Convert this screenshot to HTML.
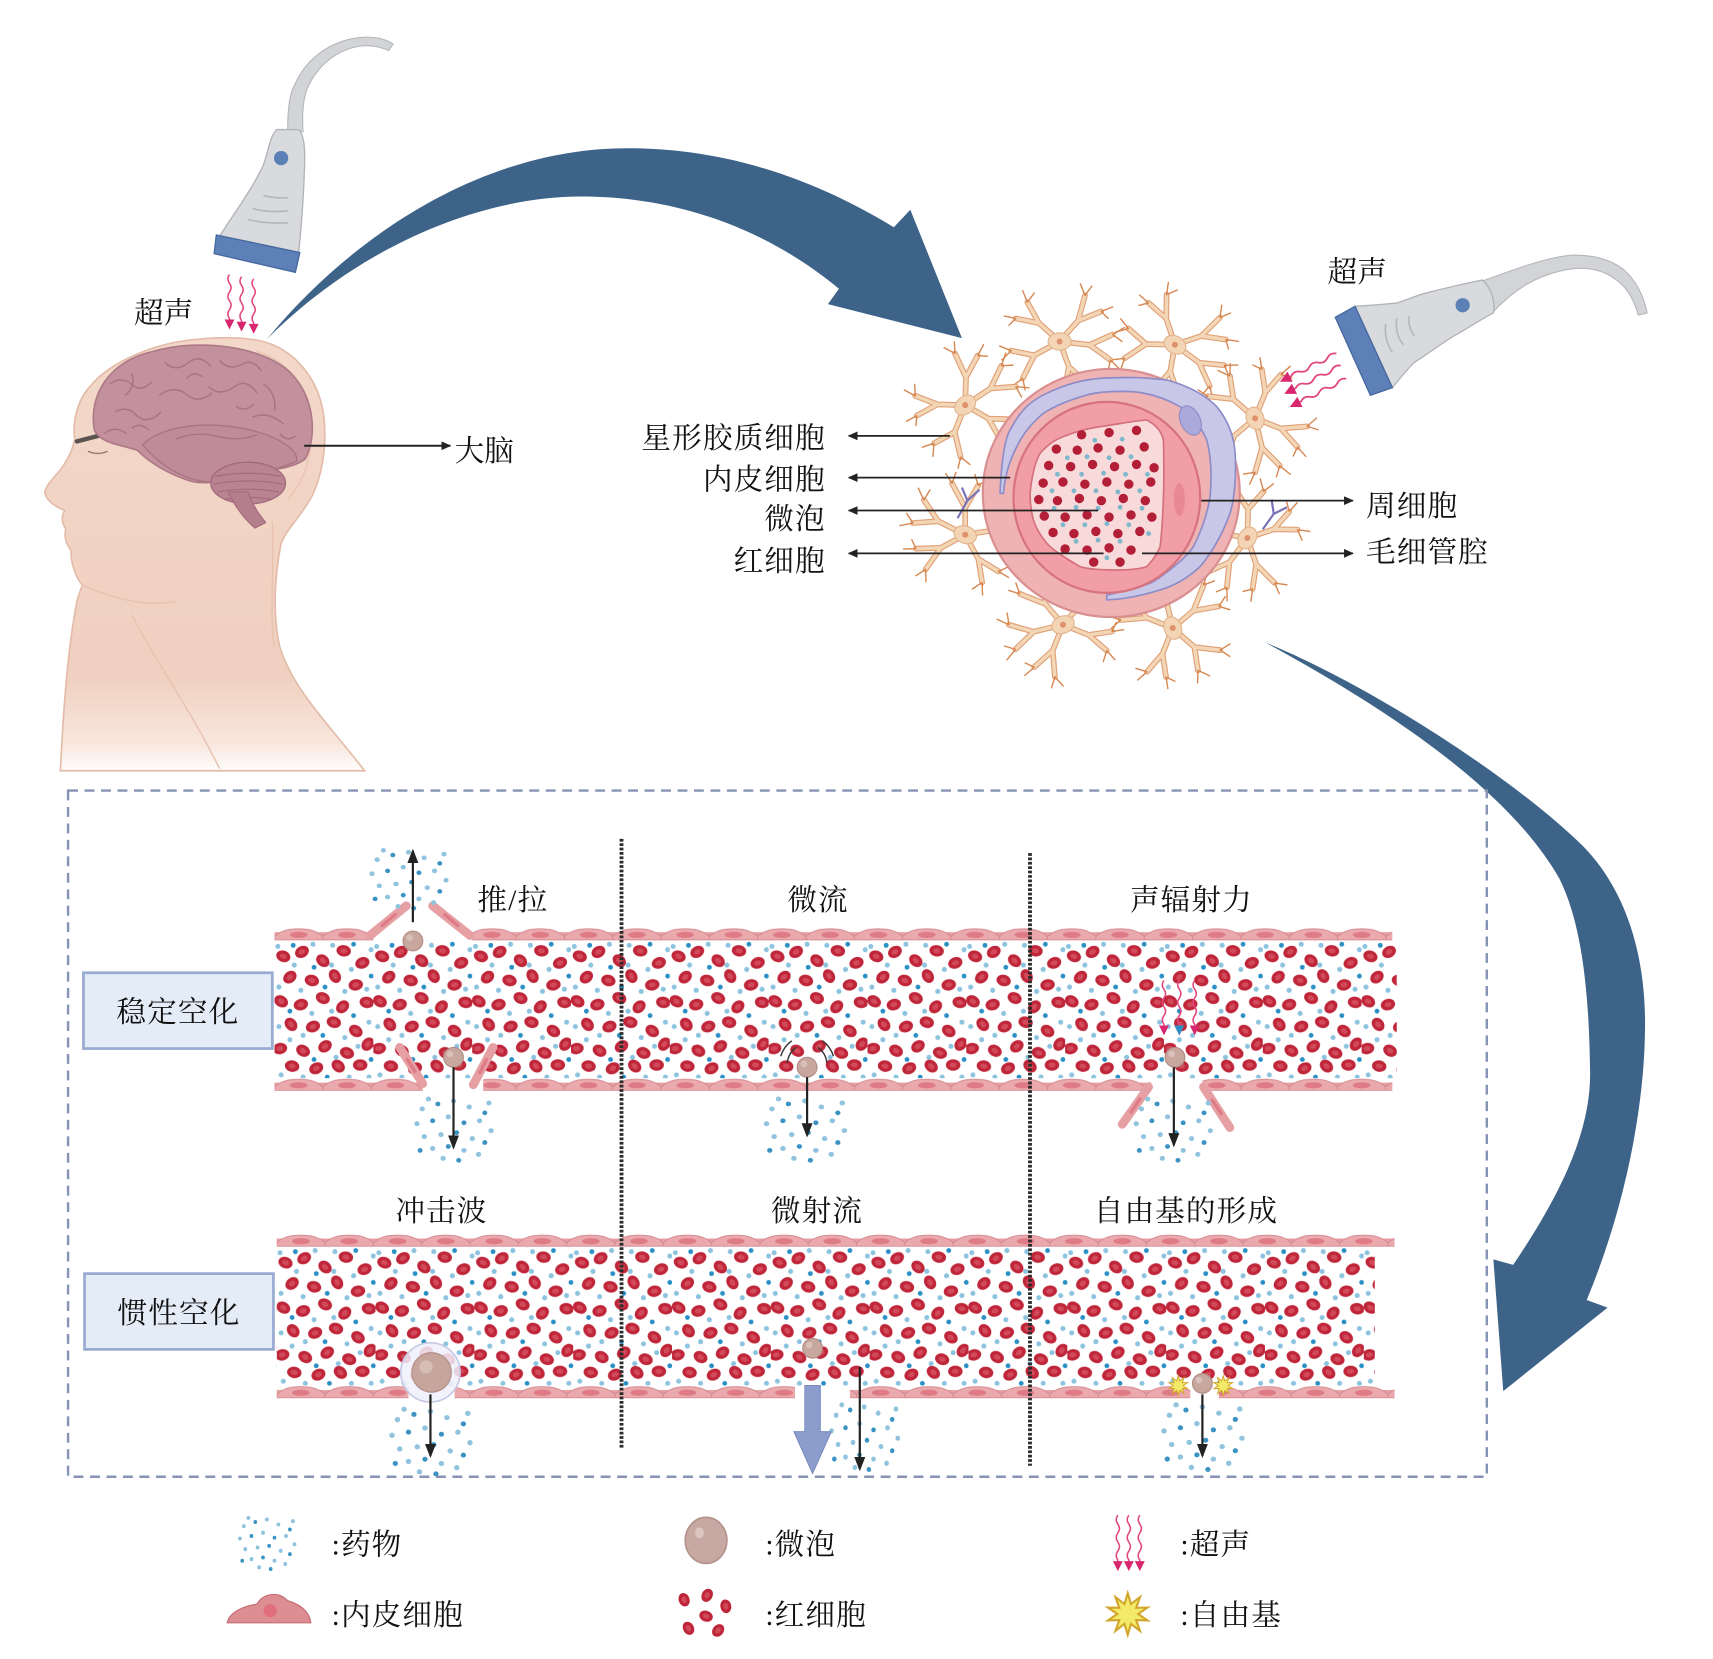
<!DOCTYPE html>
<html><head><meta charset="utf-8"><style>
html,body{margin:0;padding:0;background:#fff;}
svg{display:block;}
text{font-family:"Liberation Serif","Noto Serif CJK SC",serif;fill:#111;}
</style></head><body>
<svg width="1713" height="1659" viewBox="0 0 1560 1511" preserveAspectRatio="none" xmlns="http://www.w3.org/2000/svg" xmlns:xlink="http://www.w3.org/1999/xlink">
<defs>
<linearGradient id="skin" gradientUnits="userSpaceOnUse" x1="0" y1="300" x2="0" y2="705">
<stop offset="0" stop-color="#f3d8ca"/><stop offset="0.78" stop-color="#f0d0c0"/><stop offset="0.93" stop-color="#f8e6dd"/><stop offset="1" stop-color="#ffffff"/>
</linearGradient>
<g id="rbc"><ellipse rx="6.6" ry="5.2" fill="#c0263a"/><ellipse rx="3.2" ry="2.3" fill="#d24a5a"/></g>
<pattern id="blood" width="90" height="126" patternUnits="userSpaceOnUse">
<g fill="#8cc3df">
<circle cx="3" cy="5" r="2.3"/><circle cx="35" cy="3" r="2.3"/><circle cx="53" cy="4" r="2.3"/><circle cx="88" cy="8" r="2.3"/>
<circle cx="18" cy="22" r="2.3"/><circle cx="52" cy="22" r="2.3"/><circle cx="70" cy="26" r="2.3"/>
<circle cx="4" cy="42" r="2.3"/><circle cx="24" cy="45" r="2.3"/><circle cx="64" cy="46" r="2.3"/><circle cx="84" cy="44" r="2.3"/>
<circle cx="34" cy="66" r="2.3"/><circle cx="52" cy="64" r="2.3"/><circle cx="4" cy="78" r="2.3"/><circle cx="26" cy="86" r="2.3"/>
<circle cx="64" cy="88" r="2.3"/><circle cx="86" cy="74" r="2.3"/><circle cx="14" cy="90" r="2.3"/><circle cx="56" cy="106" r="2.3"/>
<circle cx="76" cy="96" r="2.3"/><circle cx="6" cy="122" r="2.3"/><circle cx="26" cy="124" r="2.3"/><circle cx="68" cy="124" r="2.3"/><circle cx="86" cy="124" r="2.3"/>
</g>
<g fill="#2a8fc4">
<circle cx="17" cy="4" r="2.2"/><circle cx="72" cy="3" r="2.2"/><circle cx="36" cy="24" r="2.2"/><circle cx="88" cy="32" r="2.2"/>
<circle cx="46" cy="42" r="2.2"/><circle cx="14" cy="64" r="2.2"/><circle cx="72" cy="68" r="2.2"/><circle cx="44" cy="86" r="2.2"/>
<circle cx="36" cy="108" r="2.2"/><circle cx="88" cy="108" r="2.2"/><circle cx="48" cy="124" r="2.2"/>
</g>
<use href="#rbc" transform="translate(8 14) rotate(20)"/><use href="#rbc" transform="translate(25 10) rotate(-30)"/>
<use href="#rbc" transform="translate(44 18) rotate(40)"/><use href="#rbc" transform="translate(63 9) rotate(10)"/>
<use href="#rbc" transform="translate(80 20) rotate(-20)"/><use href="#rbc" transform="translate(14 33) rotate(-40)"/>
<use href="#rbc" transform="translate(34 36) rotate(15)"/><use href="#rbc" transform="translate(55 32) rotate(60)"/>
<use href="#rbc" transform="translate(74 40) rotate(-10)"/><use href="#rbc" transform="translate(6 55) rotate(30)"/>
<use href="#rbc" transform="translate(24 58) rotate(-15)"/><use href="#rbc" transform="translate(44 52) rotate(25)"/>
<use href="#rbc" transform="translate(62 60) rotate(-45)"/><use href="#rbc" transform="translate(84 56) rotate(10)"/>
<use href="#rbc" transform="translate(15 76) rotate(50)"/><use href="#rbc" transform="translate(35 78) rotate(-20)"/>
<use href="#rbc" transform="translate(54 74) rotate(15)"/><use href="#rbc" transform="translate(74 82) rotate(35)"/>
<use href="#rbc" transform="translate(5 98) rotate(-10)"/><use href="#rbc" transform="translate(26 100) rotate(30)"/>
<use href="#rbc" transform="translate(46 96) rotate(-35)"/><use href="#rbc" transform="translate(66 102) rotate(20)"/>
<use href="#rbc" transform="translate(85 94) rotate(-50)"/><use href="#rbc" transform="translate(16 114) rotate(10)"/>
<use href="#rbc" transform="translate(38 116) rotate(-25)"/><use href="#rbc" transform="translate(58 114) rotate(40)"/>
<use href="#rbc" transform="translate(78 113) rotate(0)"/>
</pattern>
<pattern id="memb" width="44" height="13" patternUnits="userSpaceOnUse">
<rect y="4" width="44" height="7" fill="#e6a0a4"/>
<path d="M0,8 C6,2 14,1 22,1 C30,1 38,2 44,8 L44,11 L0,11Z" fill="#eaa9ac" stroke="#d4858d" stroke-width="0.8"/>
<ellipse cx="22" cy="6.5" rx="8" ry="2.8" fill="#df7b86"/>
</pattern>
<g id="cloud">
<g fill="#8fc3de">
<circle cx="-30" cy="-20" r="2.5"/><circle cx="0" cy="-28" r="2.5"/><circle cx="15" cy="-22" r="2.5"/><circle cx="-35" cy="-5" r="2.5"/>
<circle cx="-5" cy="-12" r="2.5"/><circle cx="25" cy="-8" r="2.5"/><circle cx="36" cy="2" r="2.5"/><circle cx="-28" cy="8" r="2.5"/>
<circle cx="-12" cy="6" r="2.5"/><circle cx="18" cy="10" r="2.5"/><circle cx="-20" cy="20" r="2.5"/><circle cx="10" cy="22" r="2.5"/>
<circle cx="24" cy="26" r="2.5"/><circle cx="-10" cy="30" r="2.5"/><circle cx="34" cy="-26" r="2.5"/><circle cx="-24" cy="-30" r="2.5"/>
</g>
<g fill="#3b93c4">
<circle cx="-15" cy="-25" r="2.4"/><circle cx="30" cy="-16" r="2.4"/><circle cx="-20" cy="-8" r="2.4"/><circle cx="10" cy="-6" r="2.4"/>
<circle cx="3" cy="4" r="2.4"/><circle cx="30" cy="14" r="2.4"/><circle cx="-5" cy="18" r="2.4"/><circle cx="5" cy="32" r="2.4"/><circle cx="-32" cy="22" r="2.4"/>
</g>
</g>
<g id="wv"><path d="M0,0 q-3,4 0,8 q3,4 0,8 q-3,4 0,8 q3,4 0,8 q-3,4 0,8 l0,3" fill="none" stroke="#e2457f" stroke-width="1.4"/><polygon points="-4.5,41 4.5,41 0,50" fill="#d9276f"/></g>
<g id="star"><polygon points="0,-10 1.55,-4.76 5.88,-8.09 4.05,-2.94 9.51,-3.09 5,0 9.51,3.09 4.05,2.94 5.88,8.09 1.55,4.76 0,10 -1.55,4.76 -5.88,8.09 -4.05,2.94 -9.51,3.09 -5,0 -9.51,-3.09 -4.05,-2.94 -5.88,-8.09 -1.55,-4.76" fill="#f3ea6a" stroke="#d2a62c" stroke-width="1"/></g>
<g id="bub"><circle r="9" fill="#c8a79f" stroke="#b08b83" stroke-width="1"/><circle cx="-3" cy="-3" r="3" fill="#d9c0ba"/></g>
<g id="astro">
<g stroke="#e0a177" stroke-width="5" stroke-linecap="round" fill="none">
<path d="M0,0 L-18,-16 L-28,-34 M-18,-16 L-38,-20 M0,0 L16,-18 L22,-40 M16,-18 L36,-26 M0,0 L26,3 L46,-6 M26,3 L44,16 M0,0 L8,22 L4,44 M8,22 L26,38 M0,0 L-22,12 L-42,8 M-22,12 L-32,32"/>
</g>
<g stroke="#f3d6b6" stroke-width="3" stroke-linecap="round" fill="none">
<path d="M0,0 L-18,-16 L-28,-34 M-18,-16 L-38,-20 M0,0 L16,-18 L22,-40 M16,-18 L36,-26 M0,0 L26,3 L46,-6 M26,3 L44,16 M0,0 L8,22 L4,44 M8,22 L26,38 M0,0 L-22,12 L-42,8 M-22,12 L-32,32"/>
</g>
<path d="M-28,-34 l-4,-10 M-28,-34 l6,-8 M-38,-20 l-10,-2 M-38,-20 l-6,6 M22,-40 l-4,-10 M22,-40 l6,-8 M36,-26 l10,-4 M36,-26 l6,6 M46,-6 l10,-6 M46,-6 l8,6 M44,16 l8,8 M44,16 l-2,10 M4,44 l-6,8 M4,44 l6,8 M26,38 l8,6 M26,38 l0,10 M-42,8 l-10,-4 M-42,8 l-8,8 M-32,32 l-8,6 M-32,32 l2,10" stroke="#d6864f" stroke-width="1.2" fill="none" stroke-linecap="round"/>
<ellipse rx="10" ry="7.5" fill="#f3d5b5" stroke="#e2b58e" stroke-width="1"/>
<circle r="2.6" fill="#e0906c"/>
</g>
<marker id="ah" markerWidth="13" markerHeight="10" refX="11" refY="5" orient="auto" markerUnits="userSpaceOnUse"><path d="M0,0 L13,5 L0,10 Z" fill="#222"/></marker>
<marker id="as" markerWidth="9" markerHeight="8" refX="8" refY="4" orient="auto" markerUnits="userSpaceOnUse"><path d="M0,0 L9,4 L0,8 Z" fill="#222"/></marker>
</defs>

<!-- big arrows -->
<path d="M243,309 C320,215 440,135 571,135 C665,135 745,165 814,207 L829,191 L876,308 L754,277 L764,263 C700,210 620,179 529,179 C440,179 330,222 243,309 Z" fill="#3d6389"/>
<path d="M1152,585 C1250,625 1380,710 1442,771 C1480,810 1500,870 1498,941 C1497,1010 1480,1100 1445,1184 L1464,1191 L1369,1267 L1360,1147 L1378,1152 C1420,1090 1450,1030 1448,973 C1447,900 1440,840 1420,800 C1380,730 1290,660 1152,585 Z" fill="#3d6389"/>

<!-- head -->
<path d="M228,309 C262,312 290,340 295,380 C298,410 292,435 285,450 C275,470 262,480 256,495 C250,525 248,560 255,590 C268,630 300,660 332,702 L55,702 C58,640 62,590 70,548 C72,540 74,536 75,533 C68,525 64,510 65,502 C60,495 58,488 60,482 C56,476 56,470 59,465 C52,462 44,458 41,450 C40,444 48,436 55,428 C62,418 66,410 68,400 C66,385 70,365 82,352 C100,330 140,312 180,309 C200,307 215,307 228,309 Z" fill="url(#skin)" stroke="#e3bba8" stroke-width="1.5"/>
<path d="M233,320 C270,330 285,365 283,400 C282,425 275,440 262,455" fill="none" stroke="#ebc6b4" stroke-width="1.5"/>
<path d="M75,533 C110,548 135,552 160,548 M248,475 C250,520 245,560 250,590 M120,560 C140,600 170,640 200,700" fill="none" stroke="#e8c2b0" stroke-width="1.3"/>
<path d="M70,402 L97,395" stroke="#5a5450" stroke-width="4" stroke-linecap="round"/>
<path d="M80,411 q9,4 18,0" fill="none" stroke="#9a7a70" stroke-width="1.3"/>
<!-- brain -->
<path d="M86,392 C80,360 100,328 140,320 C180,308 240,315 265,340 C285,360 290,395 278,418 C262,430 235,428 210,430 C200,440 185,442 170,437 C150,430 135,420 125,410 C110,405 92,404 86,392 Z" fill="#c3909e" stroke="#ad7986" stroke-width="1.5"/>
<path d="M130,405 C150,385 200,382 240,395 C260,402 272,412 270,420 C250,430 220,432 200,438 C180,442 150,430 130,405 Z" fill="#bf8a99" stroke="#a9737f" stroke-width="1.2"/>
<g fill="none" stroke="#a9737f" stroke-width="1.3">
<path d="M100,350 q10,-8 20,0 q8,8 18,-2 M150,330 q10,10 22,0 q10,-8 20,4 M200,328 q8,10 20,4 q10,-6 18,6 M105,375 q12,-6 20,4 q10,8 22,-4 M145,360 q14,-10 26,0 q10,8 22,-2 M190,352 q10,10 24,0 q10,-8 20,6 M240,350 q12,8 10,24 M95,395 q10,-8 20,0 M160,400 q20,-8 40,-2 q18,4 34,-2 M230,380 q14,-6 28,6 M120,340 q4,12 -6,20 M170,345 q6,-8 14,-2 M215,370 q8,6 16,-2 M120,390 q8,-6 16,2 M255,395 q6,8 14,2"/>
</g>
<ellipse cx="226" cy="440" rx="34" ry="19" fill="#b98392" stroke="#a06a7b" stroke-width="1.2"/>
<g stroke="#a06a7b" stroke-width="1" fill="none"><path d="M196,434 q30,-6 60,0 M194,441 q32,-6 64,0 M198,448 q28,-5 56,0 M204,455 q22,-4 44,0"/></g>
<path d="M208,448 C214,462 222,472 232,481 L242,476 C234,466 228,456 226,448 Z" fill="#b57e8d" stroke="#a06a7b" stroke-width="1"/>
<!-- brain label -->
<line x1="277" y1="406" x2="410" y2="406" stroke="#222" stroke-width="1.8" marker-end="url(#as)"/>
<text x="414" y="420" font-size="27">大脑</text>

<!-- left probe -->
<path d="M262,118 C262,100 264,85 268,78 C280,50 305,36 330,34 C342,33 352,36 358,40 L354,46 C345,42 335,41 328,42 C308,45 290,58 280,80 C276,90 275,105 276,120 Z" fill="#d3d4d7" stroke="#b4b6ba" stroke-width="1"/>
<path d="M200,215 C212,196 230,172 240,150 C245,135 246,124 252,118 L272,118 C278,124 278,140 277,160 C276,190 274,210 272,230 Z" fill="#d9dadd" stroke="#b1b3b8" stroke-width="1.2"/>
<circle cx="256" cy="144" r="6.5" fill="#5b80b6"/>
<path d="M230,190 q14,4 32,2 M226,200 q16,4 36,3 M240,178 q10,3 22,2" fill="none" stroke="#b5b7bb" stroke-width="1.5"/>
<polygon points="197,214 273,230 269,248 195,231" fill="#5c80b7" stroke="#45689e" stroke-width="1.2"/>
<text x="122" y="294" font-size="27">超声</text>
<use href="#wv" transform="translate(209,250)"/>
<use href="#wv" transform="translate(220,252)"/>
<use href="#wv" transform="translate(231,254)"/>

<!-- astrocytes -->
<use href="#astro" transform="translate(965,311) scale(1.05)"/>
<use href="#astro" transform="translate(1070,314) rotate(30) scale(1.05)"/>
<use href="#astro" transform="translate(879,369) rotate(-40) scale(1.05)"/>
<use href="#astro" transform="translate(1143,381) rotate(70) scale(1.05)"/>
<use href="#astro" transform="translate(879,487) rotate(200) scale(1.05)"/>
<use href="#astro" transform="translate(1136,490) rotate(120) scale(1.05)"/>
<use href="#astro" transform="translate(968,569) rotate(160) scale(1.05)"/>
<use href="#astro" transform="translate(1068,572) rotate(250) scale(1.05)"/>
<path d="M872,472 L881,456 L876,444 M881,456 L892,446 M1150,482 L1160,468 L1172,462 M1160,468 L1158,455" stroke="#7a72b8" stroke-width="2" fill="none"/>

<!-- cross section -->
<ellipse cx="1012" cy="449" rx="117" ry="113" fill="#efb3b4" stroke="#d98e90" stroke-width="2"/>
<path d="M910.7,449.3 C912,420 915,400 919.9,391.6 C930,372 940,365 950.2,359.7 C970,350 985,346 1001.8,344.6 C1030,343 1045,344 1062.5,346.1 C1085,352 1100,362 1108.1,370.4 C1120,385 1124,400 1124.8,412.9 C1126,435 1124,455 1120.2,467.5 C1112,490 1102,505 1092.9,516.1 C1080,528 1068,534 1056.5,537.3 C1035,544 1020,546 1007.9,546.4 L1007.9,541.9 C1025,538 1040,535 1050.4,529.8 C1068,518 1080,508 1086.8,497.9 C1096,480 1100,465 1102,452.4 C1104,430 1102,412 1099,400.7 C1092,385 1083,376 1074.7,370.4 C1060,362 1045,358 1032.2,356.7 C1015,356 1000,357 989.7,359.7 C975,364 960,370 950.2,376.4 C940,385 931,396 926,406.8 C919,420 915,435 913.8,449.3 Z" fill="#c9c7e7" stroke="#8c8cc8" stroke-width="1.5"/>
<ellipse cx="1084" cy="383" rx="9" ry="14" transform="rotate(-25 1084 383)" fill="#aaa9d9" stroke="#8c8cc8" stroke-width="1"/>
<ellipse cx="1008" cy="453" rx="85" ry="87" fill="#f19ea6" stroke="#d7737f" stroke-width="2"/>
<ellipse cx="966" cy="412" rx="14" ry="6" transform="rotate(-40 966 412)" fill="#e98893"/>
<ellipse cx="1074" cy="455" rx="5" ry="15" fill="#e98893"/>
<ellipse cx="975" cy="505" rx="14" ry="6" transform="rotate(40 975 505)" fill="#e98893"/>
<path d="M938.1,449.3 C940,430 943,420 947.2,412.9 C955,404 962,400 968.4,397.7 C982,392 992,390 1001.8,388.6 C1020,386 1035,383 1044.3,382.5 C1055,388 1058,395 1059.5,400.7 C1060,420 1060,440 1059.5,452.4 C1059,470 1058,485 1056.5,497.9 C1052,508 1048,512 1044.3,516.1 C1035,519 1025,519 1014,519.1 C1000,519 990,518 983.6,516.1 C970,508 960,502 953.3,494.8 C946,486 943,480 941.1,473.6 C939,465 938,455 938.1,449.3 Z" fill="#f8dadb" stroke="#d46f7b" stroke-width="1.5"/>
<g fill="#b41f38">
<circle cx="985" cy="396" r="4.3"/><circle cx="1010" cy="394" r="4.3"/><circle cx="1035" cy="392" r="4.3"/>
<circle cx="962" cy="409" r="4.3"/><circle cx="981" cy="410" r="4.3"/><circle cx="1000" cy="408" r="4.3"/><circle cx="1020" cy="410" r="4.3"/><circle cx="1042" cy="407" r="4.3"/>
<circle cx="955" cy="424" r="4.3"/><circle cx="975" cy="425" r="4.3"/><circle cx="995" cy="423" r="4.3"/><circle cx="1015" cy="425" r="4.3"/><circle cx="1035" cy="423" r="4.3"/><circle cx="1051" cy="426" r="4.3"/>
<circle cx="950" cy="440" r="4.3"/><circle cx="968" cy="439" r="4.3"/><circle cx="988" cy="441" r="4.3"/><circle cx="1008" cy="439" r="4.3"/><circle cx="1028" cy="441" r="4.3"/><circle cx="1048" cy="439" r="4.3"/>
<circle cx="946" cy="455" r="4.3"/><circle cx="963" cy="456" r="4.3"/><circle cx="983" cy="454" r="4.3"/><circle cx="1003" cy="456" r="4.3"/><circle cx="1023" cy="454" r="4.3"/><circle cx="1043" cy="456" r="4.3"/>
<circle cx="951" cy="470" r="4.3"/><circle cx="970" cy="471" r="4.3"/><circle cx="990" cy="469" r="4.3"/><circle cx="1010" cy="471" r="4.3"/><circle cx="1030" cy="469" r="4.3"/><circle cx="1049" cy="471" r="4.3"/>
<circle cx="959" cy="485" r="4.3"/><circle cx="978" cy="486" r="4.3"/><circle cx="998" cy="484" r="4.3"/><circle cx="1018" cy="486" r="4.3"/><circle cx="1038" cy="484" r="4.3"/>
<circle cx="970" cy="500" r="4.3"/><circle cx="990" cy="501" r="4.3"/><circle cx="1010" cy="499" r="4.3"/><circle cx="1030" cy="501" r="4.3"/>
<circle cx="996" cy="512" r="4.3"/><circle cx="1020" cy="512" r="4.3"/>
</g>
<g fill="#7fb7cc">
<circle cx="997" cy="401" r="2.2"/><circle cx="1022" cy="400" r="2.2"/><circle cx="972" cy="417" r="2.2"/><circle cx="990" cy="416" r="2.2"/><circle cx="1010" cy="417" r="2.2"/><circle cx="1030" cy="416" r="2.2"/>
<circle cx="963" cy="432" r="2.2"/><circle cx="985" cy="432" r="2.2"/><circle cx="1005" cy="431" r="2.2"/><circle cx="1025" cy="432" r="2.2"/><circle cx="1045" cy="432" r="2.2"/>
<circle cx="958" cy="447" r="2.2"/><circle cx="978" cy="447" r="2.2"/><circle cx="998" cy="447" r="2.2"/><circle cx="1018" cy="448" r="2.2"/><circle cx="1038" cy="447" r="2.2"/>
<circle cx="960" cy="463" r="2.2"/><circle cx="980" cy="462" r="2.2"/><circle cx="1000" cy="463" r="2.2"/><circle cx="1020" cy="462" r="2.2"/><circle cx="1040" cy="463" r="2.2"/>
<circle cx="968" cy="478" r="2.2"/><circle cx="988" cy="478" r="2.2"/><circle cx="1008" cy="477" r="2.2"/><circle cx="1028" cy="478" r="2.2"/><circle cx="1046" cy="486" r="2.2"/>
<circle cx="980" cy="493" r="2.2"/><circle cx="1000" cy="492" r="2.2"/><circle cx="1020" cy="493" r="2.2"/><circle cx="1008" cy="508" r="2.2"/>
</g>
<!-- label arrows -->
<g stroke="#222" stroke-width="1.6">
<line x1="865" y1="397" x2="773" y2="397" marker-end="url(#as)"/>
<line x1="920" y1="435" x2="773" y2="435" marker-end="url(#as)"/>
<line x1="1000" y1="465" x2="773" y2="465" marker-end="url(#as)"/>
<line x1="1005" y1="504" x2="773" y2="504" marker-end="url(#as)"/>
<line x1="1094" y1="456" x2="1232" y2="456" marker-end="url(#as)"/>
<line x1="1040" y1="504" x2="1232" y2="504" marker-end="url(#as)"/>
</g>
<g font-size="27" text-anchor="end" letter-spacing="1">
<text x="752" y="408">星形胶质细胞</text>
<text x="752" y="446">内皮细胞</text>
<text x="752" y="482">微泡</text>
<text x="752" y="520">红细胞</text>
</g>
<text x="1244" y="470" font-size="27" letter-spacing="1">周细胞</text>
<text x="1244" y="512" font-size="27" letter-spacing="1">毛细管腔</text>

<!-- right probe -->
<path d="M1350,256 C1380,245 1400,238 1415,235 C1435,230 1460,232 1478,245 C1490,255 1497,270 1500,285 L1492,287 C1488,273 1482,262 1472,255 C1458,244 1440,242 1420,247 C1400,252 1380,262 1360,284 Z" fill="#d3d4d7" stroke="#b4b6ba" stroke-width="1"/>
<path d="M1234,279 C1250,278 1262,277 1272,276 C1285,272 1292,268 1302,266 C1318,262 1335,258 1350,255 C1358,262 1362,275 1360,285 C1345,293 1335,300 1324,306 C1305,318 1295,326 1288,330 C1280,338 1274,346 1268,353 Z" fill="#d9dadd" stroke="#b1b3b8" stroke-width="1.2"/>
<circle cx="1332" cy="278" r="6.5" fill="#5b80b6"/>
<path d="M1262,295 q-2,14 6,26 M1272,290 q-2,14 6,24 M1283,288 q-1,10 5,18" fill="none" stroke="#b5b7bb" stroke-width="1.5"/>
<polygon points="1216,289 1234,279 1268,353 1248,360" fill="#5c80b7" stroke="#45689e" stroke-width="1.2"/>
<text x="1209" y="257" font-size="27">超声</text>
<use href="#wv" transform="translate(1217,322) rotate(63.4) scale(1.15)"/>
<use href="#wv" transform="translate(1221,333) rotate(63.4) scale(1.15)"/>
<use href="#wv" transform="translate(1226,345) rotate(63.4) scale(1.15)"/>

<!-- dashed box -->
<rect x="62" y="720" width="1292" height="625" fill="none" stroke="#8793b5" stroke-width="2.2" stroke-dasharray="9 6"/>

<!-- category boxes -->
<rect x="76" y="886" width="172" height="69" fill="#e4ecf8" stroke="#9aabd2" stroke-width="2.5"/>
<text x="162" y="931" font-size="27" text-anchor="middle" letter-spacing="1">稳定空化</text>
<rect x="77" y="1160" width="172" height="69" fill="#e4ecf8" stroke="#9aabd2" stroke-width="2.5"/>
<text x="163" y="1205" font-size="27" text-anchor="middle" letter-spacing="1">惯性空化</text>

<!-- bands: blood -->
<g transform="translate(250,857)"><rect width="1022" height="125" fill="url(#blood)"/></g>
<g transform="translate(252,1136)"><rect width="1000" height="126" fill="url(#blood)"/></g>

<!-- membranes -->
<g transform="translate(250,845)"><rect width="90" height="13" fill="url(#memb)"/><rect x="180" width="838" height="13" fill="url(#memb)"/></g>
<g transform="translate(250,982)"><rect width="135" height="13" fill="url(#memb)"/><rect x="190" width="608" height="13" fill="url(#memb)"/><rect x="845" width="173" height="13" fill="url(#memb)"/></g>
<g transform="translate(252,1124)"><rect width="1018" height="13" fill="url(#memb)"/></g>
<g transform="translate(252,1262)"><rect width="120" height="13" fill="url(#memb)"/><rect x="162" width="310" height="13" fill="url(#memb)"/><rect x="522" width="310" height="13" fill="url(#memb)"/><rect x="858" width="160" height="13" fill="url(#memb)"/></g>
<!-- tilted cells -->
<g stroke-linecap="round">
<line x1="337" y1="852" x2="370" y2="825" stroke="#e6a0a4" stroke-width="8"/>
<line x1="394" y1="825" x2="428" y2="852" stroke="#e6a0a4" stroke-width="8"/>
<line x1="385" y1="987" x2="364" y2="954" stroke="#e6a0a4" stroke-width="8"/>
<line x1="431" y1="988" x2="449" y2="954" stroke="#e6a0a4" stroke-width="8"/>
<line x1="1046" y1="990" x2="1022" y2="1024" stroke="#e6a0a4" stroke-width="8"/>
<line x1="1096" y1="990" x2="1120" y2="1027" stroke="#e6a0a4" stroke-width="8"/>
</g>
<g stroke="#df7b86" stroke-width="3" stroke-linecap="round">
<line x1="348" y1="843" x2="360" y2="833"/><line x1="405" y1="833" x2="417" y2="843"/>
<line x1="378" y1="976" x2="371" y2="965"/><line x1="437" y1="977" x2="443" y2="965"/>
<line x1="1038" y1="1001" x2="1030" y2="1013"/><line x1="1104" y1="1002" x2="1112" y2="1014"/>
</g>

<!-- dividers -->
<line x1="566" y1="764" x2="566" y2="1320" stroke="#2b2b2b" stroke-width="3.5" stroke-dasharray="2.5 1.5"/>
<line x1="938" y1="777" x2="938" y2="1335" stroke="#2b2b2b" stroke-width="3.5" stroke-dasharray="2.5 1.5"/>

<!-- drug clouds -->
<use href="#cloud" transform="translate(372,800) scale(0.95,0.85)"/>
<use href="#cloud" transform="translate(413,1028) scale(0.95,0.9)"/>
<use href="#cloud" transform="translate(733,1028) scale(1,0.9)"/>
<use href="#cloud" transform="translate(1068,1028) scale(0.95,0.9)"/>
<use href="#cloud" transform="translate(392,1312) scale(1,0.95)"/>
<use href="#cloud" transform="translate(787,1308) scale(0.85,0.95)"/>
<use href="#cloud" transform="translate(1095,1308) scale(1,0.95)"/>

<!-- bubbles & arrows stable -->
<use href="#bub" transform="translate(376,857)"/>
<use href="#bub" transform="translate(413,963)"/>
<use href="#bub" transform="translate(735,972)"/>
<use href="#bub" transform="translate(1070,963)"/>
<g fill="none" stroke="#333" stroke-width="1.3">
<path d="M717,968 A20,20 0 0 1 725,954 M745,954 A20,20 0 0 1 753,968 M711,962 A27,27 0 0 1 721,948 M749,948 A27,27 0 0 1 759,962"/>
</g>
<use href="#wv" transform="translate(1060,893)"/>
<use href="#wv" transform="translate(1074,893)"/>
<use href="#wv" transform="translate(1088,893)"/>
<polygon points="1069.5,934 1078.5,934 1074,943" fill="#2a8fc4"/>
<g stroke="#222" stroke-width="2">
<line x1="376" y1="840" x2="376" y2="775" marker-end="url(#ah)"/>
<line x1="413" y1="972" x2="413" y2="1045" marker-end="url(#ah)"/>
<line x1="735" y1="981" x2="735" y2="1034" marker-end="url(#ah)"/>
<line x1="1069" y1="972" x2="1069" y2="1043" marker-end="url(#ah)"/>
</g>

<!-- inertial -->
<circle cx="392" cy="1250" r="27" fill="#eef0fa" fill-opacity="0.85" stroke="#c5c9e3" stroke-width="1.5"/>
<circle cx="393" cy="1250" r="18" fill="#c5a59c" stroke="#b08b83" stroke-width="1"/>
<circle cx="388" cy="1245" r="6" fill="#d6bdb6"/>
<use href="#bub" transform="translate(740,1228)"/>
<polygon points="733,1262 747,1262 747,1304 757,1304 740,1342 723,1304 733,1304" fill="#8c9dcd" stroke="#7a8cc0" stroke-width="1"/>
<use href="#bub" transform="translate(1095,1260)"/>
<use href="#star" transform="translate(1073,1262) scale(0.9)"/>
<use href="#star" transform="translate(1114,1262) scale(0.9)"/>
<g stroke="#222" stroke-width="2">
<line x1="392" y1="1270" x2="392" y2="1326" marker-end="url(#ah)"/>
<line x1="783" y1="1245" x2="783" y2="1338" marker-end="url(#ah)"/>
<line x1="1095" y1="1270" x2="1095" y2="1326" marker-end="url(#ah)"/>
</g>

<!-- panel labels -->
<g font-size="27" text-anchor="middle" letter-spacing="1">
<text x="467" y="829">推/拉</text>
<text x="745" y="829">微流</text>
<text x="1085" y="829">声辐射力</text>
<text x="402" y="1112">冲击波</text>
<text x="744" y="1112">微射流</text>
<text x="1080" y="1112">自由基的形成</text>
</g>

<!-- legend -->
<use href="#cloud" transform="translate(243,1405) scale(0.7,0.75)"/>
<path d="M207,1478 C209,1468 222,1463 234,1461 C240,1451 254,1449 262,1458 C273,1461 282,1468 283,1478 Z" fill="#dd8e93" stroke="#c77078" stroke-width="1.2"/>
<circle cx="246" cy="1467" r="6" fill="#e06f7b"/>
<ellipse cx="643" cy="1403" rx="19" ry="21" fill="#c8a8a2" stroke="#b3928b" stroke-width="1.5"/>
<ellipse cx="637" cy="1396" rx="4" ry="5" fill="#dcc6c1"/>
<use href="#rbc" transform="translate(623,1457) rotate(70) scale(0.95)"/>
<use href="#rbc" transform="translate(644,1453) rotate(-60) scale(0.95)"/>
<use href="#rbc" transform="translate(661,1463) rotate(80) scale(0.95)"/>
<use href="#rbc" transform="translate(643,1472) rotate(20) scale(0.95)"/>
<use href="#rbc" transform="translate(627,1483) rotate(60) scale(0.95)"/>
<use href="#rbc" transform="translate(654,1485) rotate(-50) scale(0.95)"/>
<use href="#wv" transform="translate(1018,1380) scale(1,1.02)"/>
<use href="#wv" transform="translate(1028,1380) scale(1,1.02)"/>
<use href="#wv" transform="translate(1038,1380) scale(1,1.02)"/>
<use href="#star" transform="translate(1027,1470) scale(1.9)"/>
<g font-size="27" letter-spacing="1">
<text x="302" y="1416">:药物</text>
<text x="302" y="1480">:内皮细胞</text>
<text x="697" y="1416">:微泡</text>
<text x="697" y="1480">:红细胞</text>
<text x="1075" y="1416">:超声</text>
<text x="1075" y="1480">:自由基</text>
</g>
</svg>
</body></html>
